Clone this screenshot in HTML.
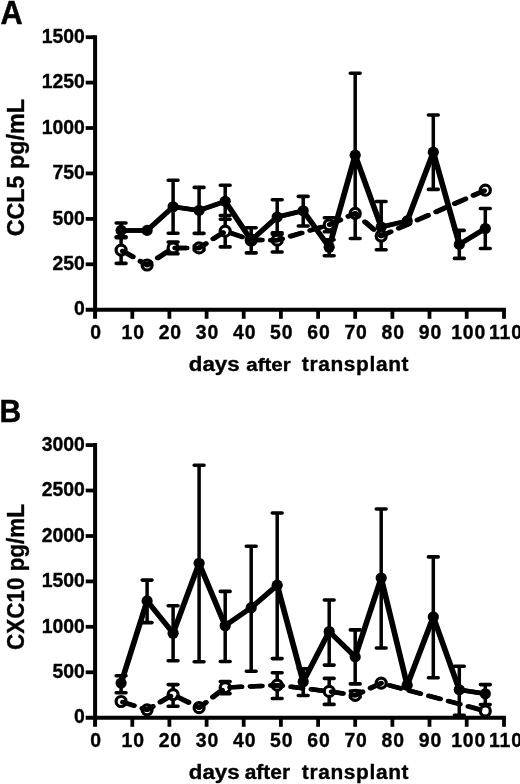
<!DOCTYPE html>
<html><head><meta charset="utf-8"><title>Figure</title>
<style>
html,body{margin:0;padding:0;background:#fff;}
body{width:520px;height:784px;overflow:hidden;font-family:"Liberation Sans",sans-serif;}
svg{display:block;opacity:0.999;will-change:transform;filter:blur(0.45px);}
text.c{stroke:#000;stroke-width:0.5px;}
text.b{stroke:#000;stroke-width:0.35px;}
text{font-family:"Liberation Sans",sans-serif;font-weight:bold;fill:#000;}
</style></head><body>
<svg width="520" height="784" viewBox="0 0 520 784"><rect width="520" height="784" fill="#fff"/><path d="M95.1 35.2V318.8" stroke="#000" stroke-width="4.0"/><path d="M85.7 309.7H505.9" stroke="#000" stroke-width="4.0"/><text transform="translate(84.90 315.40) scale(1.0 1)" text-anchor="end" style="font-size:19.4px;" class="b">0</text><path d="M85.7 264.3H95.1" stroke="#000" stroke-width="3.8"/><text transform="translate(84.90 269.98) scale(1.0 1)" text-anchor="end" style="font-size:19.4px;" class="b">250</text><path d="M85.7 218.9H95.1" stroke="#000" stroke-width="3.8"/><text transform="translate(84.90 224.57) scale(1.0 1)" text-anchor="end" style="font-size:19.4px;" class="b">500</text><path d="M85.7 173.4H95.1" stroke="#000" stroke-width="3.8"/><text transform="translate(84.90 179.15) scale(1.0 1)" text-anchor="end" style="font-size:19.4px;" class="b">750</text><path d="M85.7 128.0H95.1" stroke="#000" stroke-width="3.8"/><text transform="translate(84.90 133.73) scale(1.0 1)" text-anchor="end" style="font-size:19.4px;" class="b">1000</text><path d="M85.7 82.6H95.1" stroke="#000" stroke-width="3.8"/><text transform="translate(84.90 88.32) scale(1.0 1)" text-anchor="end" style="font-size:19.4px;" class="b">1250</text><path d="M85.7 37.2H95.1" stroke="#000" stroke-width="3.8"/><text transform="translate(84.90 42.90) scale(1.0 1)" text-anchor="end" style="font-size:19.4px;" class="b">1500</text><path d="M132.3 309.7V318.8" stroke="#000" stroke-width="3.8"/><path d="M169.4 309.7V318.8" stroke="#000" stroke-width="3.8"/><path d="M206.6 309.7V318.8" stroke="#000" stroke-width="3.8"/><path d="M243.7 309.7V318.8" stroke="#000" stroke-width="3.8"/><path d="M280.9 309.7V318.8" stroke="#000" stroke-width="3.8"/><path d="M318.1 309.7V318.8" stroke="#000" stroke-width="3.8"/><path d="M355.2 309.7V318.8" stroke="#000" stroke-width="3.8"/><path d="M392.4 309.7V318.8" stroke="#000" stroke-width="3.8"/><path d="M429.5 309.7V318.8" stroke="#000" stroke-width="3.8"/><path d="M466.7 309.7V318.8" stroke="#000" stroke-width="3.8"/><path d="M504.0 309.7V318.8" stroke="#000" stroke-width="3.8"/><text transform="translate(96.00 338.80) scale(1.0 1)" text-anchor="middle" style="font-size:19.4px;letter-spacing:0.9px;" class="b">0</text><text transform="translate(133.16 338.80) scale(1.0 1)" text-anchor="middle" style="font-size:19.4px;letter-spacing:0.9px;" class="b">10</text><text transform="translate(170.32 338.80) scale(1.0 1)" text-anchor="middle" style="font-size:19.4px;letter-spacing:0.9px;" class="b">20</text><text transform="translate(207.48 338.80) scale(1.0 1)" text-anchor="middle" style="font-size:19.4px;letter-spacing:0.9px;" class="b">30</text><text transform="translate(244.64 338.80) scale(1.0 1)" text-anchor="middle" style="font-size:19.4px;letter-spacing:0.9px;" class="b">40</text><text transform="translate(281.80 338.80) scale(1.0 1)" text-anchor="middle" style="font-size:19.4px;letter-spacing:0.9px;" class="b">50</text><text transform="translate(318.96 338.80) scale(1.0 1)" text-anchor="middle" style="font-size:19.4px;letter-spacing:0.9px;" class="b">60</text><text transform="translate(356.12 338.80) scale(1.0 1)" text-anchor="middle" style="font-size:19.4px;letter-spacing:0.9px;" class="b">70</text><text transform="translate(393.28 338.80) scale(1.0 1)" text-anchor="middle" style="font-size:19.4px;letter-spacing:0.9px;" class="b">80</text><text transform="translate(430.44 338.80) scale(1.0 1)" text-anchor="middle" style="font-size:19.4px;letter-spacing:0.9px;" class="b">90</text><text transform="translate(468.70 338.80) scale(1.0 1)" text-anchor="middle" style="font-size:19.4px;letter-spacing:0.9px;" class="b">100</text><text transform="translate(505.86 338.80) scale(1.0 1)" text-anchor="middle" style="font-size:19.4px;letter-spacing:0.9px;" class="b">110</text><text transform="translate(188.80 370.50) scale(1.09 1)" text-anchor="start" style="font-size:20.5px;" class="b">days</text><text transform="translate(246.30 370.50) scale(1.12 1)" text-anchor="start" style="font-size:18.3px;" class="b">after</text><text transform="translate(301.80 370.50) scale(1.02 1)" text-anchor="start" style="font-size:20.5px;letter-spacing:0.62px;" class="b">transplant</text><text transform="translate(23.70 167.70) rotate(-90) scale(1.0 1)" text-anchor="middle" style="font-size:23.3px;" class="b">CCL5 pg/mL</text><text transform="translate(0.60 23.80) scale(0.93 1)" text-anchor="start" style="font-size:33px;" class="c">A</text><path d="M121.1 223.0V237.8" stroke="#000" stroke-width="3.5" fill="none"/><path d="M116.2 223.0h9.8M116.2 237.8h9.8" stroke="#000" stroke-width="3.6" stroke-linecap="round" fill="none"/><path d="M173.1 180.3V233.3" stroke="#000" stroke-width="3.5" fill="none"/><path d="M168.2 180.3h9.8M168.2 233.3h9.8" stroke="#000" stroke-width="3.6" stroke-linecap="round" fill="none"/><path d="M199.1 187.4V233.4" stroke="#000" stroke-width="3.5" fill="none"/><path d="M194.2 187.4h9.8M194.2 233.4h9.8" stroke="#000" stroke-width="3.6" stroke-linecap="round" fill="none"/><path d="M225.2 185.3V219.2" stroke="#000" stroke-width="3.5" fill="none"/><path d="M220.3 185.3h9.8M220.3 219.2h9.8" stroke="#000" stroke-width="3.6" stroke-linecap="round" fill="none"/><path d="M251.2 227.7V252.9" stroke="#000" stroke-width="3.5" fill="none"/><path d="M246.3 227.7h9.8M246.3 252.9h9.8" stroke="#000" stroke-width="3.6" stroke-linecap="round" fill="none"/><path d="M277.2 199.8V234.2" stroke="#000" stroke-width="3.5" fill="none"/><path d="M272.3 199.8h9.8M272.3 234.2h9.8" stroke="#000" stroke-width="3.6" stroke-linecap="round" fill="none"/><path d="M303.2 196.4V226.0" stroke="#000" stroke-width="3.5" fill="none"/><path d="M298.3 196.4h9.8M298.3 226.0h9.8" stroke="#000" stroke-width="3.6" stroke-linecap="round" fill="none"/><path d="M329.2 239.7V255.7" stroke="#000" stroke-width="3.5" fill="none"/><path d="M324.3 239.7h9.8M324.3 255.7h9.8" stroke="#000" stroke-width="3.6" stroke-linecap="round" fill="none"/><path d="M355.2 73.2V238.5" stroke="#000" stroke-width="3.5" fill="none"/><path d="M350.3 73.2h9.8M350.3 238.5h9.8" stroke="#000" stroke-width="3.6" stroke-linecap="round" fill="none"/><path d="M381.2 201.5V249.8" stroke="#000" stroke-width="3.5" fill="none"/><path d="M376.3 201.5h9.8M376.3 249.8h9.8" stroke="#000" stroke-width="3.6" stroke-linecap="round" fill="none"/><path d="M433.3 115.0V189.4" stroke="#000" stroke-width="3.5" fill="none"/><path d="M428.4 115.0h9.8M428.4 189.4h9.8" stroke="#000" stroke-width="3.6" stroke-linecap="round" fill="none"/><path d="M459.3 230.4V258.4" stroke="#000" stroke-width="3.5" fill="none"/><path d="M454.4 230.4h9.8M454.4 258.4h9.8" stroke="#000" stroke-width="3.6" stroke-linecap="round" fill="none"/><path d="M485.3 208.5V248.5" stroke="#000" stroke-width="3.5" fill="none"/><path d="M480.4 208.5h9.8M480.4 248.5h9.8" stroke="#000" stroke-width="3.6" stroke-linecap="round" fill="none"/><path d="M121.1 236.8V263.4" stroke="#000" stroke-width="3.5" fill="none"/><path d="M116.2 236.8h9.8M116.2 263.4h9.8" stroke="#000" stroke-width="3.6" stroke-linecap="round" fill="none"/><path d="M173.1 242.1V253.7" stroke="#000" stroke-width="3.5" fill="none"/><path d="M168.2 242.1h9.8M168.2 253.7h9.8" stroke="#000" stroke-width="3.6" stroke-linecap="round" fill="none"/><path d="M199.1 245.9V249.9" stroke="#000" stroke-width="3.5" fill="none"/><path d="M194.2 245.9h9.8M194.2 249.9h9.8" stroke="#000" stroke-width="3.6" stroke-linecap="round" fill="none"/><path d="M225.2 215.5V246.9" stroke="#000" stroke-width="3.5" fill="none"/><path d="M220.3 215.5h9.8M220.3 246.9h9.8" stroke="#000" stroke-width="3.6" stroke-linecap="round" fill="none"/><path d="M277.2 232.7V252.0" stroke="#000" stroke-width="3.5" fill="none"/><path d="M272.3 232.7h9.8M272.3 252.0h9.8" stroke="#000" stroke-width="3.6" stroke-linecap="round" fill="none"/><path d="M329.2 217.8V231.8" stroke="#000" stroke-width="3.5" fill="none"/><path d="M324.3 217.8h9.8M324.3 231.8h9.8" stroke="#000" stroke-width="3.6" stroke-linecap="round" fill="none"/><circle cx="121.1" cy="250.1" r="5.0" fill="#fff" stroke="#000" stroke-width="3.2"/><circle cx="147.1" cy="265.0" r="5.0" fill="#fff" stroke="#000" stroke-width="3.2"/><circle cx="173.1" cy="247.9" r="5.0" fill="#fff" stroke="#000" stroke-width="3.2"/><circle cx="199.1" cy="247.9" r="5.0" fill="#fff" stroke="#000" stroke-width="3.2"/><circle cx="225.2" cy="231.2" r="5.0" fill="#fff" stroke="#000" stroke-width="3.2"/><circle cx="251.2" cy="240.0" r="5.0" fill="#fff" stroke="#000" stroke-width="3.2"/><circle cx="277.2" cy="240.2" r="5.0" fill="#fff" stroke="#000" stroke-width="3.2"/><circle cx="329.2" cy="224.8" r="5.0" fill="#fff" stroke="#000" stroke-width="3.2"/><circle cx="355.2" cy="213.3" r="5.0" fill="#fff" stroke="#000" stroke-width="3.2"/><circle cx="381.2" cy="236.0" r="5.0" fill="#fff" stroke="#000" stroke-width="3.2"/><circle cx="485.3" cy="190.2" r="5.0" fill="#fff" stroke="#000" stroke-width="3.2"/><polyline points="120.5,250.1 146.5,265.0 172.5,247.9 198.5,247.9 224.6,231.2 250.6,240.0 276.6,240.2 328.6,224.8 354.6,213.3 380.6,236.0 484.7,190.2" fill="none" stroke="#000" stroke-width="4.5" stroke-linejoin="round" stroke-dasharray="11.6 8.8" stroke-dashoffset="-1.9" stroke-linecap="round"/><polyline points="121.7,250.1 147.7,265.0 173.7,247.9 199.7,247.9 225.8,231.2 251.8,240.0 277.8,240.2 329.8,224.8 355.8,213.3 381.8,236.0 485.9,190.2" fill="none" stroke="#000" stroke-width="4.5" stroke-linejoin="round" stroke-dasharray="11.6 8.8" stroke-dashoffset="-1.9" stroke-linecap="round"/><polyline points="120.5,230.4 146.5,230.4 172.5,206.8 198.5,210.4 224.6,201.3 250.6,240.3 276.6,217.0 302.6,210.8 328.6,247.2 354.6,155.2 380.6,227.0 406.6,220.9 432.7,152.2 458.7,244.4 484.7,228.5" fill="none" stroke="#000" stroke-width="4.5" stroke-linejoin="round" stroke-linecap="butt"/><polyline points="121.7,230.4 147.7,230.4 173.7,206.8 199.7,210.4 225.8,201.3 251.8,240.3 277.8,217.0 303.8,210.8 329.8,247.2 355.8,155.2 381.8,227.0 407.8,220.9 433.9,152.2 459.9,244.4 485.9,228.5" fill="none" stroke="#000" stroke-width="4.5" stroke-linejoin="round" stroke-linecap="butt"/><circle cx="121.1" cy="230.4" r="5.6" fill="#000"/><circle cx="147.1" cy="230.4" r="5.6" fill="#000"/><circle cx="173.1" cy="206.8" r="5.6" fill="#000"/><circle cx="199.1" cy="210.4" r="5.6" fill="#000"/><circle cx="225.2" cy="201.3" r="5.6" fill="#000"/><circle cx="251.2" cy="240.3" r="5.6" fill="#000"/><circle cx="277.2" cy="217.0" r="5.6" fill="#000"/><circle cx="303.2" cy="210.8" r="5.6" fill="#000"/><circle cx="329.2" cy="247.2" r="5.6" fill="#000"/><circle cx="355.2" cy="155.2" r="5.6" fill="#000"/><circle cx="381.2" cy="227.0" r="5.6" fill="#000"/><circle cx="407.2" cy="220.9" r="5.6" fill="#000"/><circle cx="433.3" cy="152.2" r="5.6" fill="#000"/><circle cx="459.3" cy="244.4" r="5.6" fill="#000"/><circle cx="485.3" cy="228.5" r="5.6" fill="#000"/><path d="M95.1 443.1V726.8" stroke="#000" stroke-width="4.0"/><path d="M85.7 717.7H505.9" stroke="#000" stroke-width="4.0"/><text transform="translate(84.90 723.40) scale(1.0 1)" text-anchor="end" style="font-size:19.4px;" class="b">0</text><path d="M85.7 672.3H95.1" stroke="#000" stroke-width="3.8"/><text transform="translate(84.90 677.97) scale(1.0 1)" text-anchor="end" style="font-size:19.4px;" class="b">500</text><path d="M85.7 626.8H95.1" stroke="#000" stroke-width="3.8"/><text transform="translate(84.90 632.53) scale(1.0 1)" text-anchor="end" style="font-size:19.4px;" class="b">1000</text><path d="M85.7 581.4H95.1" stroke="#000" stroke-width="3.8"/><text transform="translate(84.90 587.10) scale(1.0 1)" text-anchor="end" style="font-size:19.4px;" class="b">1500</text><path d="M85.7 536.0H95.1" stroke="#000" stroke-width="3.8"/><text transform="translate(84.90 541.67) scale(1.0 1)" text-anchor="end" style="font-size:19.4px;" class="b">2000</text><path d="M85.7 490.5H95.1" stroke="#000" stroke-width="3.8"/><text transform="translate(84.90 496.23) scale(1.0 1)" text-anchor="end" style="font-size:19.4px;" class="b">2500</text><path d="M85.7 445.1H95.1" stroke="#000" stroke-width="3.8"/><text transform="translate(84.90 450.80) scale(1.0 1)" text-anchor="end" style="font-size:19.4px;" class="b">3000</text><path d="M132.3 717.7V726.8" stroke="#000" stroke-width="3.8"/><path d="M169.4 717.7V726.8" stroke="#000" stroke-width="3.8"/><path d="M206.6 717.7V726.8" stroke="#000" stroke-width="3.8"/><path d="M243.7 717.7V726.8" stroke="#000" stroke-width="3.8"/><path d="M280.9 717.7V726.8" stroke="#000" stroke-width="3.8"/><path d="M318.1 717.7V726.8" stroke="#000" stroke-width="3.8"/><path d="M355.2 717.7V726.8" stroke="#000" stroke-width="3.8"/><path d="M392.4 717.7V726.8" stroke="#000" stroke-width="3.8"/><path d="M429.5 717.7V726.8" stroke="#000" stroke-width="3.8"/><path d="M466.7 717.7V726.8" stroke="#000" stroke-width="3.8"/><path d="M504.0 717.7V726.8" stroke="#000" stroke-width="3.8"/><text transform="translate(96.00 746.80) scale(1.0 1)" text-anchor="middle" style="font-size:19.4px;letter-spacing:0.9px;" class="b">0</text><text transform="translate(133.16 746.80) scale(1.0 1)" text-anchor="middle" style="font-size:19.4px;letter-spacing:0.9px;" class="b">10</text><text transform="translate(170.32 746.80) scale(1.0 1)" text-anchor="middle" style="font-size:19.4px;letter-spacing:0.9px;" class="b">20</text><text transform="translate(207.48 746.80) scale(1.0 1)" text-anchor="middle" style="font-size:19.4px;letter-spacing:0.9px;" class="b">30</text><text transform="translate(244.64 746.80) scale(1.0 1)" text-anchor="middle" style="font-size:19.4px;letter-spacing:0.9px;" class="b">40</text><text transform="translate(281.80 746.80) scale(1.0 1)" text-anchor="middle" style="font-size:19.4px;letter-spacing:0.9px;" class="b">50</text><text transform="translate(318.96 746.80) scale(1.0 1)" text-anchor="middle" style="font-size:19.4px;letter-spacing:0.9px;" class="b">60</text><text transform="translate(356.12 746.80) scale(1.0 1)" text-anchor="middle" style="font-size:19.4px;letter-spacing:0.9px;" class="b">70</text><text transform="translate(393.28 746.80) scale(1.0 1)" text-anchor="middle" style="font-size:19.4px;letter-spacing:0.9px;" class="b">80</text><text transform="translate(430.44 746.80) scale(1.0 1)" text-anchor="middle" style="font-size:19.4px;letter-spacing:0.9px;" class="b">90</text><text transform="translate(468.70 746.80) scale(1.0 1)" text-anchor="middle" style="font-size:19.4px;letter-spacing:0.9px;" class="b">100</text><text transform="translate(505.86 746.80) scale(1.0 1)" text-anchor="middle" style="font-size:19.4px;letter-spacing:0.9px;" class="b">110</text><text transform="translate(188.80 778.50) scale(1.09 1)" text-anchor="start" style="font-size:20.5px;" class="b">days</text><text transform="translate(244.70 778.50) scale(1.085 1)" text-anchor="start" style="font-size:19.3px;" class="b">after</text><text transform="translate(301.80 778.50) scale(1.02 1)" text-anchor="start" style="font-size:20.5px;letter-spacing:0.62px;" class="b">transplant</text><text transform="translate(23.70 577.00) rotate(-90) scale(0.965 1)" text-anchor="middle" style="font-size:23.3px;" class="b">CXC10 pg/mL</text><text transform="translate(-0.60 421.80) scale(0.93 1)" text-anchor="start" style="font-size:32.2px;" class="c">B</text><path d="M121.1 675.8V692.8" stroke="#000" stroke-width="3.5" fill="none"/><path d="M116.2 675.8h9.8M116.2 692.8h9.8" stroke="#000" stroke-width="3.6" stroke-linecap="round" fill="none"/><path d="M147.1 580.1V622.6" stroke="#000" stroke-width="3.5" fill="none"/><path d="M142.2 580.1h9.8M142.2 622.6h9.8" stroke="#000" stroke-width="3.6" stroke-linecap="round" fill="none"/><path d="M173.1 605.7V660.7" stroke="#000" stroke-width="3.5" fill="none"/><path d="M168.2 605.7h9.8M168.2 660.7h9.8" stroke="#000" stroke-width="3.6" stroke-linecap="round" fill="none"/><path d="M199.1 465.3V661.7" stroke="#000" stroke-width="3.5" fill="none"/><path d="M194.2 465.3h9.8M194.2 661.7h9.8" stroke="#000" stroke-width="3.6" stroke-linecap="round" fill="none"/><path d="M225.2 591.4V661.5" stroke="#000" stroke-width="3.5" fill="none"/><path d="M220.3 591.4h9.8M220.3 661.5h9.8" stroke="#000" stroke-width="3.6" stroke-linecap="round" fill="none"/><path d="M251.2 546.2V671.2" stroke="#000" stroke-width="3.5" fill="none"/><path d="M246.3 546.2h9.8M246.3 671.2h9.8" stroke="#000" stroke-width="3.6" stroke-linecap="round" fill="none"/><path d="M277.2 513.0V658.6" stroke="#000" stroke-width="3.5" fill="none"/><path d="M272.3 513.0h9.8M272.3 658.6h9.8" stroke="#000" stroke-width="3.6" stroke-linecap="round" fill="none"/><path d="M303.2 668.8V695.5" stroke="#000" stroke-width="3.5" fill="none"/><path d="M298.3 668.8h9.8M298.3 695.5h9.8" stroke="#000" stroke-width="3.6" stroke-linecap="round" fill="none"/><path d="M329.2 600.0V665.1" stroke="#000" stroke-width="3.5" fill="none"/><path d="M324.3 600.0h9.8M324.3 665.1h9.8" stroke="#000" stroke-width="3.6" stroke-linecap="round" fill="none"/><path d="M355.2 629.9V683.9" stroke="#000" stroke-width="3.5" fill="none"/><path d="M350.3 629.9h9.8M350.3 683.9h9.8" stroke="#000" stroke-width="3.6" stroke-linecap="round" fill="none"/><path d="M381.2 509.0V648.0" stroke="#000" stroke-width="3.5" fill="none"/><path d="M376.3 509.0h9.8M376.3 648.0h9.8" stroke="#000" stroke-width="3.6" stroke-linecap="round" fill="none"/><path d="M433.3 556.9V677.8" stroke="#000" stroke-width="3.5" fill="none"/><path d="M428.4 556.9h9.8M428.4 677.8h9.8" stroke="#000" stroke-width="3.6" stroke-linecap="round" fill="none"/><path d="M459.3 666.2V715.2" stroke="#000" stroke-width="3.5" fill="none"/><path d="M454.4 666.2h9.8M454.4 715.2h9.8" stroke="#000" stroke-width="3.6" stroke-linecap="round" fill="none"/><path d="M485.3 684.6V704.6" stroke="#000" stroke-width="3.5" fill="none"/><path d="M480.4 684.6h9.8M480.4 704.6h9.8" stroke="#000" stroke-width="3.6" stroke-linecap="round" fill="none"/><path d="M173.1 684.6V706.2" stroke="#000" stroke-width="3.5" fill="none"/><path d="M168.2 684.6h9.8M168.2 706.2h9.8" stroke="#000" stroke-width="3.6" stroke-linecap="round" fill="none"/><path d="M225.2 681.6V693.6" stroke="#000" stroke-width="3.5" fill="none"/><path d="M220.3 681.6h9.8M220.3 693.6h9.8" stroke="#000" stroke-width="3.6" stroke-linecap="round" fill="none"/><path d="M277.2 672.8V698.5" stroke="#000" stroke-width="3.5" fill="none"/><path d="M272.3 672.8h9.8M272.3 698.5h9.8" stroke="#000" stroke-width="3.6" stroke-linecap="round" fill="none"/><path d="M329.2 678.4V704.4" stroke="#000" stroke-width="3.5" fill="none"/><path d="M324.3 678.4h9.8M324.3 704.4h9.8" stroke="#000" stroke-width="3.6" stroke-linecap="round" fill="none"/><path d="M355.2 691.1V697.3" stroke="#000" stroke-width="3.5" fill="none"/><path d="M350.3 691.1h9.8M350.3 697.3h9.8" stroke="#000" stroke-width="3.6" stroke-linecap="round" fill="none"/><circle cx="121.1" cy="701.5" r="5.0" fill="#fff" stroke="#000" stroke-width="3.2"/><circle cx="147.1" cy="709.8" r="5.0" fill="#fff" stroke="#000" stroke-width="3.2"/><circle cx="173.1" cy="694.6" r="5.0" fill="#fff" stroke="#000" stroke-width="3.2"/><circle cx="199.1" cy="707.7" r="5.0" fill="#fff" stroke="#000" stroke-width="3.2"/><circle cx="225.2" cy="687.6" r="5.0" fill="#fff" stroke="#000" stroke-width="3.2"/><circle cx="277.2" cy="685.2" r="5.0" fill="#fff" stroke="#000" stroke-width="3.2"/><circle cx="329.2" cy="691.4" r="5.0" fill="#fff" stroke="#000" stroke-width="3.2"/><circle cx="355.2" cy="695.3" r="5.0" fill="#fff" stroke="#000" stroke-width="3.2"/><circle cx="381.2" cy="683.1" r="5.0" fill="#fff" stroke="#000" stroke-width="3.2"/><circle cx="485.3" cy="711.0" r="5.0" fill="#fff" stroke="#000" stroke-width="3.2"/><polyline points="120.5,701.5 146.5,709.8 172.5,694.6 198.5,707.7 224.6,687.6 276.6,685.2 328.6,691.4 354.6,695.3 380.6,683.1 484.7,711.0" fill="none" stroke="#000" stroke-width="4.5" stroke-linejoin="round" stroke-dasharray="11.6 8.8" stroke-dashoffset="-1.9" stroke-linecap="round"/><polyline points="121.7,701.5 147.7,709.8 173.7,694.6 199.7,707.7 225.8,687.6 277.8,685.2 329.8,691.4 355.8,695.3 381.8,683.1 485.9,711.0" fill="none" stroke="#000" stroke-width="4.5" stroke-linejoin="round" stroke-dasharray="11.6 8.8" stroke-dashoffset="-1.9" stroke-linecap="round"/><polyline points="120.5,683.1 146.5,600.9 172.5,633.2 198.5,563.3 224.6,625.7 250.6,607.7 276.6,585.2 302.6,681.8 328.6,631.5 354.6,656.9 380.6,578.0 406.6,685.2 432.7,616.9 458.7,689.8 484.7,693.8" fill="none" stroke="#000" stroke-width="4.5" stroke-linejoin="round" stroke-linecap="butt"/><polyline points="121.7,683.1 147.7,600.9 173.7,633.2 199.7,563.3 225.8,625.7 251.8,607.7 277.8,585.2 303.8,681.8 329.8,631.5 355.8,656.9 381.8,578.0 407.8,685.2 433.9,616.9 459.9,689.8 485.9,693.8" fill="none" stroke="#000" stroke-width="4.5" stroke-linejoin="round" stroke-linecap="butt"/><circle cx="121.1" cy="683.1" r="5.6" fill="#000"/><circle cx="147.1" cy="600.9" r="5.6" fill="#000"/><circle cx="173.1" cy="633.2" r="5.6" fill="#000"/><circle cx="199.1" cy="563.3" r="5.6" fill="#000"/><circle cx="225.2" cy="625.7" r="5.6" fill="#000"/><circle cx="251.2" cy="607.7" r="5.6" fill="#000"/><circle cx="277.2" cy="585.2" r="5.6" fill="#000"/><circle cx="303.2" cy="681.8" r="5.6" fill="#000"/><circle cx="329.2" cy="631.5" r="5.6" fill="#000"/><circle cx="355.2" cy="656.9" r="5.6" fill="#000"/><circle cx="381.2" cy="578.0" r="5.6" fill="#000"/><circle cx="407.2" cy="685.2" r="5.6" fill="#000"/><circle cx="433.3" cy="616.9" r="5.6" fill="#000"/><circle cx="459.3" cy="689.8" r="5.6" fill="#000"/><circle cx="485.3" cy="693.8" r="5.6" fill="#000"/></svg>
</body></html>
